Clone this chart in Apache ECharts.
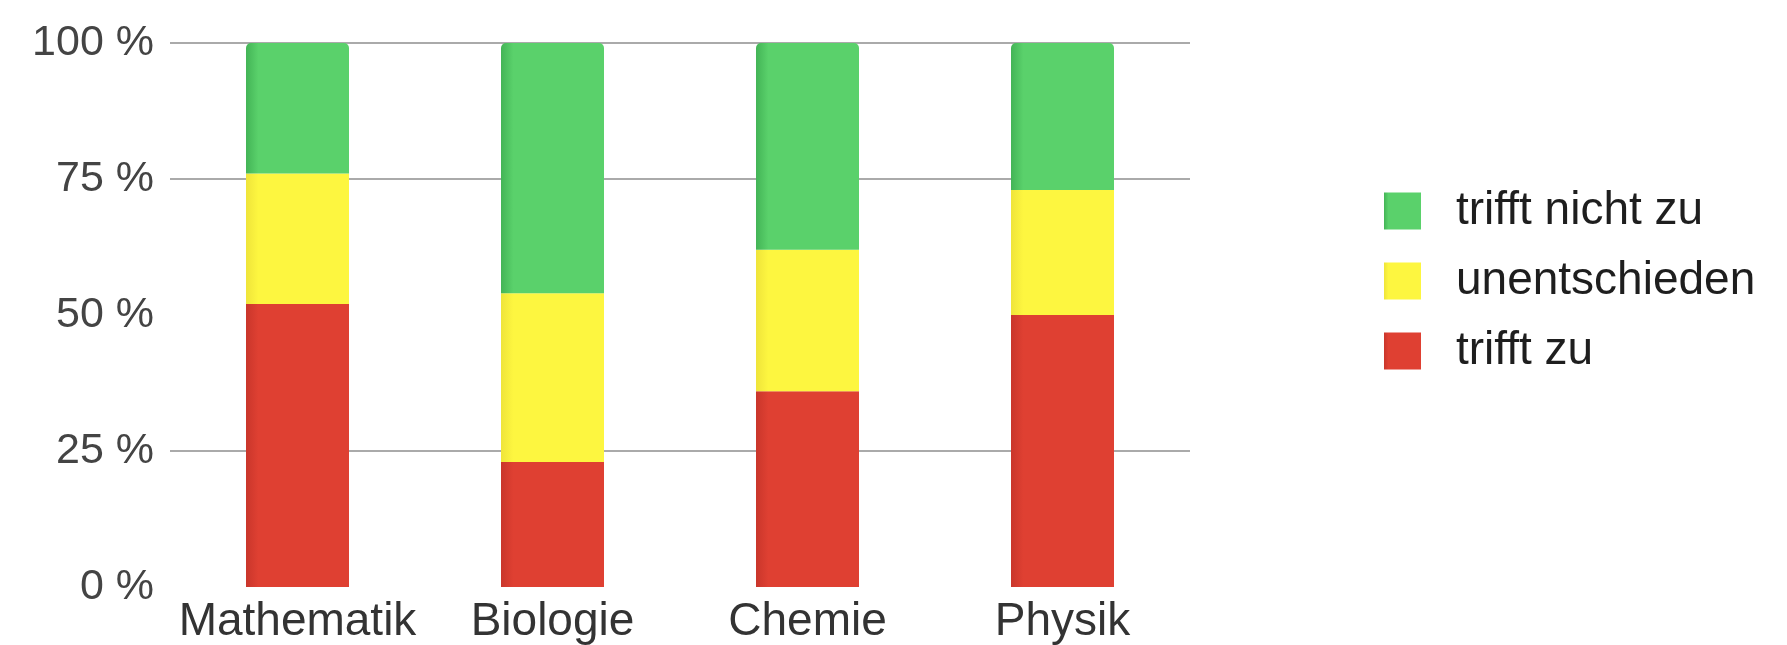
<!DOCTYPE html>
<html>
<head>
<meta charset="utf-8">
<title>Umfrage nach Fach</title>
<script src="https://cdn.jsdelivr.net/npm/echarts@6/dist/echarts.min.js"></script>
<style>
  html, body { margin: 0; padding: 0; background: #ffffff; }
  #chart { width: 1787px; height: 645px; }
</style>
</head>
<body>
<div id="chart"></div>
<script>
// Fächer (x-Achse)
const subjects = ['Mathematik', 'Biologie', 'Chemie', 'Physik'];

// Anteile in Prozent je Antwort
const trifftZu = [52, 23, 36, 50];
const unentschieden = [24, 31, 26, 23];
const trifftNichtZu = [24, 46, 38, 27];

// Beschriftung der y-Achse
const yTicks = [0, 25, 50, 75, 100];

const seriesNames = ['trifft zu', 'unentschieden', 'trifft nicht zu'];

function shade(dark, light) {
  return {
    type: 'linear', x: 0, y: 0, x2: 1, y2: 0,
    colorStops: [
      { offset: 0, color: dark },
      { offset: 0.12, color: light },
      { offset: 1, color: light }
    ]
  };
}

const chart = echarts.init(document.getElementById('chart'), null, { renderer: 'canvas' });

chart.setOption({
  animation: false,
  backgroundColor: '#ffffff',
  textStyle: { fontFamily: 'Liberation Sans, Arial, sans-serif' },
  grid: { left: 170, right: 597, top: 43, bottom: 58, containLabel: false },
  legend: {
    data: ['trifft nicht zu', 'unentschieden', 'trifft zu'],
    orient: 'vertical',
    left: 1379,
    top: 183,
    icon: 'rect',
    itemWidth: 37,
    itemHeight: 37,
    itemGap: 24,
    selectedMode: false,
    textStyle: {
      fontSize: 46,
      color: '#1e1e1e',
      padding: [0, 0, 0, 30],
      fontFamily: 'Liberation Sans, Arial, sans-serif'
    }
  },
  xAxis: {
    type: 'category',
    data: subjects,
    axisLine: { show: false },
    axisTick: { show: false },
    axisLabel: {
      interval: 0,
      hideOverlap: false,
      fontSize: 46,
      color: '#333333',
      margin: 12,
      fontFamily: 'Liberation Sans, Arial, sans-serif'
    }
  },
  yAxis: {
    type: 'value',
    min: 0,
    max: 100,
    interval: 25,
    axisLine: { show: false },
    axisTick: { show: false },
    axisLabel: {
      fontSize: 43,
      color: '#444444',
      margin: 16,
      fontFamily: 'Liberation Sans, Arial, sans-serif',
      formatter: function (v) { return yTicks.indexOf(v) >= 0 ? v + ' %' : ''; }
    },
    splitLine: {
      show: true,
      lineStyle: {
        width: 2,
        color: ['rgba(0,0,0,0)', '#aaaaaa', 'rgba(0,0,0,0)', '#aaaaaa', '#aaaaaa']
      }
    }
  },
  series: [
    {
      name: seriesNames[0],
      type: 'bar',
      stack: 'gesamt',
      barWidth: 103,
      data: trifftZu,
      color: '#e63d2f',
      itemStyle: { color: shade('#c9362b', '#df4032') }
    },
    {
      name: seriesNames[1],
      type: 'bar',
      stack: 'gesamt',
      barWidth: 103,
      data: unentschieden,
      color: '#fdf23c',
      itemStyle: { color: shade('#efe43a', '#fdf640') }
    },
    {
      name: seriesNames[2],
      type: 'bar',
      stack: 'gesamt',
      barWidth: 103,
      data: trifftNichtZu,
      color: '#4fbb60',
      itemStyle: { color: shade('#43b456', '#5ad16b'), borderRadius: [5, 5, 0, 0] }
    }
  ]
});
</script>
</body>
</html>
